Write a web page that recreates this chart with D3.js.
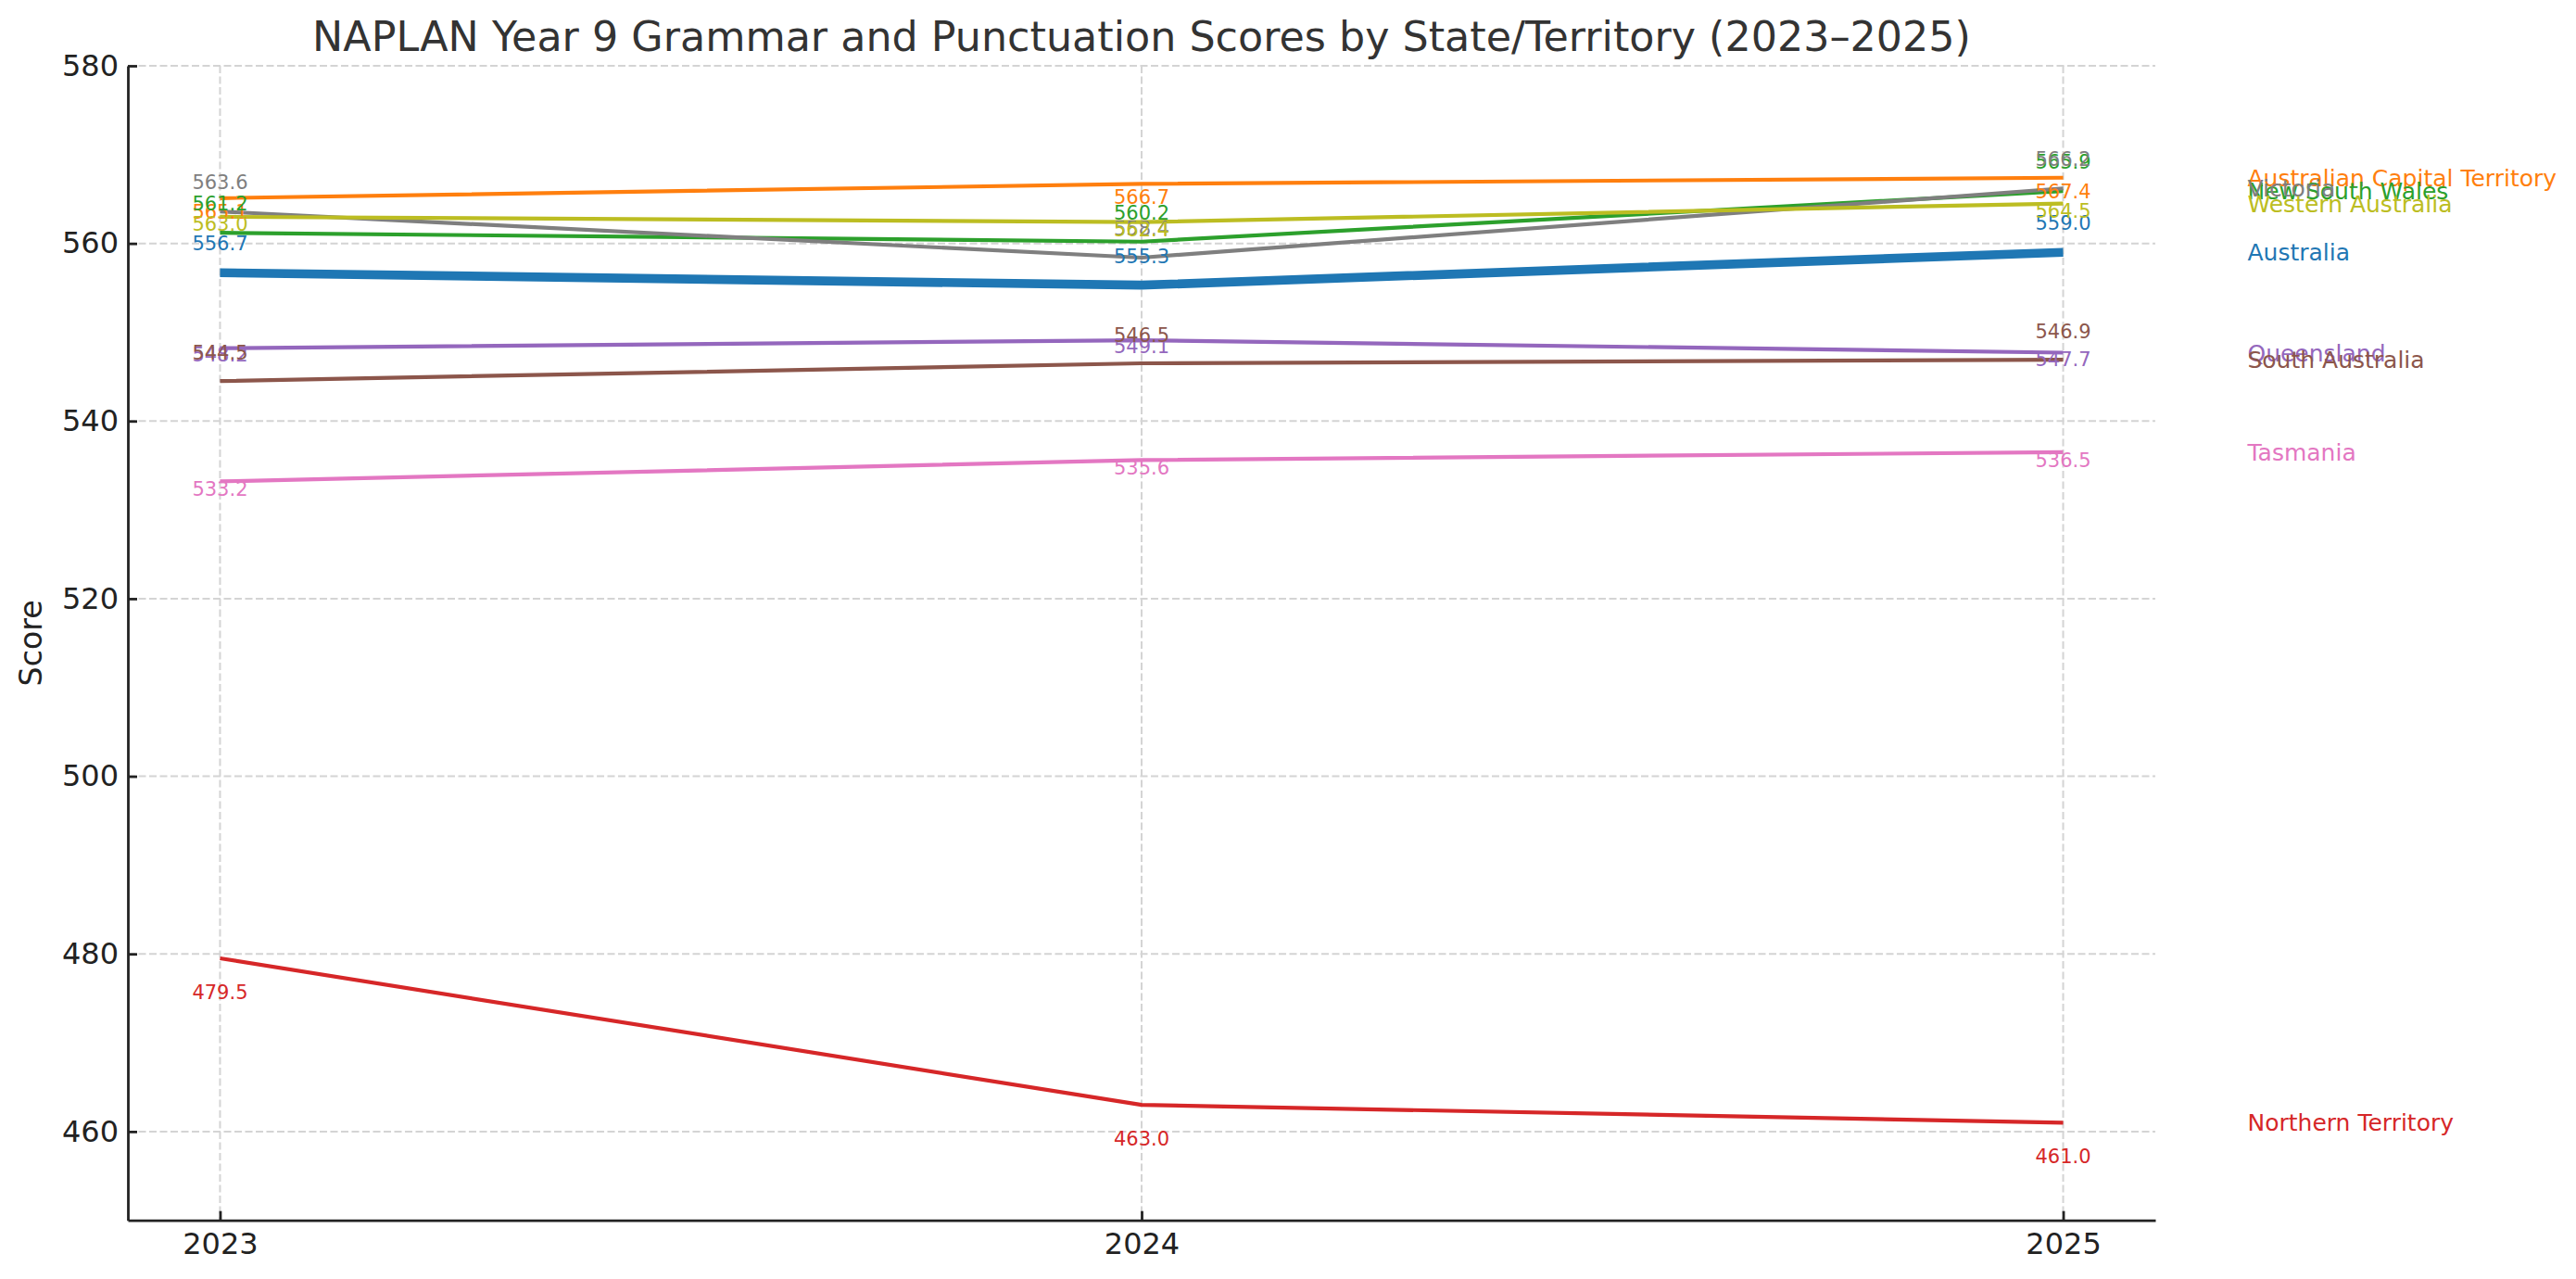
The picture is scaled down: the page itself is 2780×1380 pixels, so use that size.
<!DOCTYPE html>
<html>
<head>
<meta charset="utf-8">
<script src="https://cdn.jsdelivr.net/npm/d3@7"></script>
<style>
  html, body { margin: 0; padding: 0; background: #fff; }
  svg { display: block; font-family: "DejaVu Sans", sans-serif; }
</style>
</head>
<body>
<svg id="chart" width="2780" height="1380"></svg>
<script>
// ---------------- data ----------------
const years = [2023, 2024, 2025];
const states = [
  "Australia",
  "Australian Capital Territory",
  "New South Wales",
  "Northern Territory",
  "Queensland",
  "South Australia",
  "Tasmania",
  "Victoria",
  "Western Australia"
];
const australia = [556.7, 555.3, 559.0];
const act       = [565.1, 566.7, 567.4];
const nsw       = [561.2, 560.2, 565.9];
const nt        = [479.5, 463.0, 461.0];
const qld       = [548.2, 549.1, 547.7];
const sa        = [544.5, 546.5, 546.9];
const tas       = [533.2, 535.6, 536.5];
const vic       = [563.6, 558.4, 566.2];
const wa        = [563.0, 562.4, 564.5];
const seriesValues = [australia, act, nsw, nt, qld, sa, tas, vic, wa];
const yTicks = [460, 480, 500, 520, 540, 560, 580];

// ---------------- styles ----------------
const colors = ["#1f77b4", "#ff7f0e", "#2ca02c", "#d62728", "#9467bd",
                "#8c564b", "#e377c2", "#7f7f7f", "#bcbd22"];
const lineWidths = [9.7, 4.2, 4.2, 4.2, 4.2, 4.2, 4.2, 4.2, 4.2];
// baseline offset (px) of the value labels relative to each point
const labelShift = [-24, 22, -24, 44, 14, -23, 16, -24, 15];

// ---------------- layout ----------------
const W = 2780, H = 1380;
const mLeft = 138, mRight = 2326, mTop = 71, mBottom = 1316.7;

const svg = d3.select("#chart");
const x = d3.scaleLinear().domain([2022.9, 2025.1]).range([mLeft, mRight]);
const y = d3.scaleLinear().domain([450, 580]).range([mBottom, mTop]);

// grid
const grid = svg.append("g").attr("class", "grid");
grid.selectAll("line.gy").data(yTicks).enter().append("line")
  .attr("x1", mLeft).attr("x2", mRight)
  .attr("y1", d => y(d)).attr("y2", d => y(d))
  .attr("stroke", "#d4d4d4").attr("stroke-width", 2)
  .attr("stroke-dasharray", "8,3.5");
grid.selectAll("line.gx").data(years).enter().append("line")
  .attr("x1", d => x(d)).attr("x2", d => x(d))
  .attr("y1", mTop).attr("y2", mBottom)
  .attr("stroke", "#d4d4d4").attr("stroke-width", 2)
  .attr("stroke-dasharray", "8,3.5");

// lines
const line = d3.line().x((d, i) => x(years[i])).y(d => y(d));
const linesG = svg.append("g");
seriesValues.forEach((vals, si) => {
  linesG.append("path")
    .datum(vals)
    .attr("d", line)
    .attr("fill", "none")
    .attr("stroke", colors[si])
    .attr("stroke-width", lineWidths[si])
    .attr("stroke-linejoin", "round")
    .attr("stroke-linecap", "butt");
});

// value labels
const labelsG = svg.append("g");
seriesValues.forEach((vals, si) => {
  labelsG.selectAll(null).data(vals).enter().append("text")
    .attr("x", (d, i) => x(years[i]))
    .attr("y", d => y(d) + labelShift[si])
    .attr("text-anchor", "middle")
    .attr("font-size", 21)
    .attr("fill", colors[si])
    .text(d => d.toFixed(1));
});

// series names at right
const namesG = svg.append("g");
seriesValues.forEach((vals, si) => {
  namesG.append("text")
    .attr("x", x(2025.2))
    .attr("y", y(vals[vals.length - 1]))
    .attr("dy", "0.36em")
    .attr("font-size", 25)
    .attr("fill", colors[si])
    .text(states[si]);
});

// axes
const yAxis = d3.axisLeft(y).tickValues(yTicks).tickFormat(d3.format("d"))
  .tickSizeInner(-10).tickSizeOuter(0).tickPadding(10);
const xAxis = d3.axisBottom(x).tickValues(years).tickFormat(d3.format("d"))
  .tickSizeInner(-10).tickSizeOuter(0).tickPadding(13.6);

const gy = svg.append("g").attr("transform", `translate(${mLeft},0)`).call(yAxis);
const gx = svg.append("g").attr("transform", `translate(0,${mBottom})`).call(xAxis);
[gy, gx].forEach(g => {
  g.select(".domain").attr("stroke", "#222").attr("stroke-width", 2.8);
  g.selectAll(".tick line").attr("stroke", "#222").attr("stroke-width", 2.8);
  g.selectAll(".tick text").attr("font-size", 32).attr("fill", "#222")
    .attr("font-family", "DejaVu Sans");
});

// y label
svg.append("text")
  .attr("transform", `translate(45,${(mTop + mBottom) / 2}) rotate(-90)`)
  .attr("text-anchor", "middle")
  .attr("font-size", 33.3)
  .attr("fill", "#222")
  .text("Score");

// title
svg.append("text")
  .attr("x", (mLeft + mRight) / 2)
  .attr("y", 55)
  .attr("text-anchor", "middle")
  .attr("font-size", 44.4)
  .attr("fill", "#333")
  .text("NAPLAN Year 9 Grammar and Punctuation Scores by State/Territory (2023–2025)");
</script>
</body>
</html>
